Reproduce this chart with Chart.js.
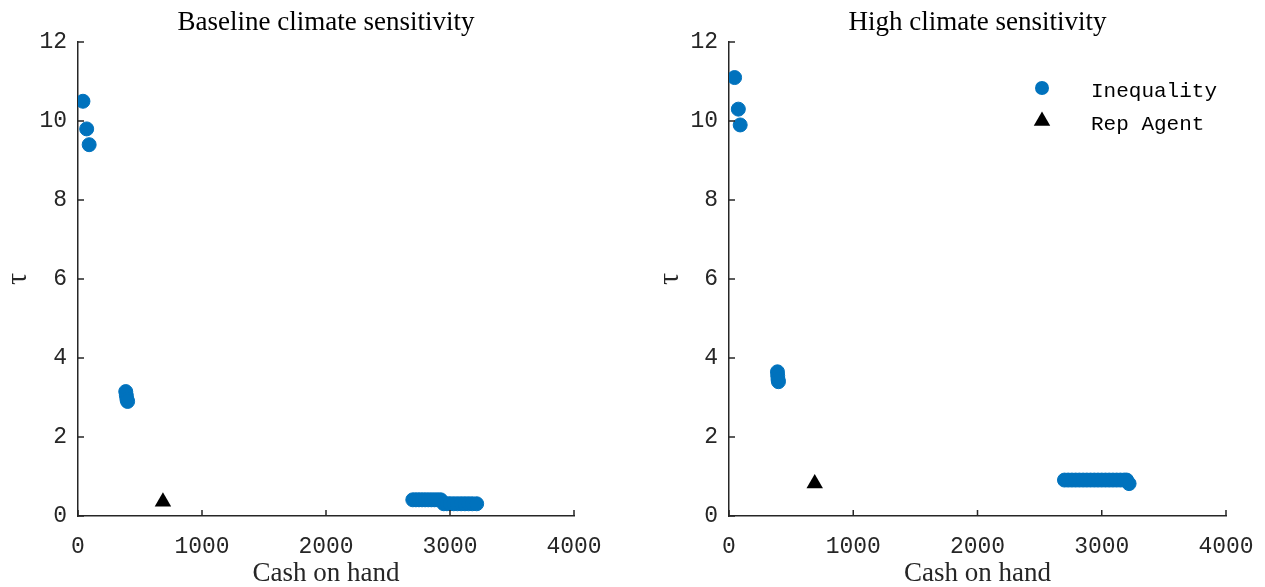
<!DOCTYPE html>
<html>
<head>
<meta charset="utf-8">
<script src="https://cdn.jsdelivr.net/npm/chart.js@4.4.1/dist/chart.umd.min.js"></script>
<style>
  html, body { margin: 0; padding: 0; background: #fff; }
  .panel { position: absolute; top: 0; height: 587px; }
  #left { left: 0; width: 632px; }
  #right { left: 632px; width: 633px; }
</style>
</head>
<body>
<div class="panel" id="left"><canvas id="baseChart"></canvas></div>
<div class="panel" id="right"><canvas id="highChart"></canvas></div>
<script>
// ---- DATA ----
const xTicks = [0, 1000, 2000, 3000, 4000];
const yTicks = [0, 2, 4, 6, 8, 10, 12];
const seriesNames = ['Inequality', 'Rep Agent'];

// Baseline climate sensitivity
const baseIneqX = [40, 70, 90, 385, 390, 395, 400,
  2700, 2725, 2750, 2775, 2800, 2825, 2850, 2875, 2900, 2925,
  2950, 2975, 3000, 3030, 3060, 3090, 3120, 3150, 3180, 3215];
const baseIneqY = [10.5, 9.8, 9.4, 3.15, 3.05, 2.95, 2.9,
  0.41, 0.41, 0.41, 0.41, 0.41, 0.41, 0.41, 0.41, 0.41, 0.41,
  0.31, 0.31, 0.31, 0.31, 0.31, 0.31, 0.31, 0.31, 0.31, 0.31];
const baseRepX = [685];
const baseRepY = [0.36];

// High climate sensitivity
const highIneqX = [45, 75, 90, 390, 392, 395, 398,
  2700, 2730, 2760, 2790, 2820, 2850, 2880, 2910, 2940, 2970,
  3000, 3030, 3060, 3090, 3120, 3150, 3180, 3200, 3220];
const highIneqY = [11.1, 10.3, 9.9, 3.65, 3.55, 3.45, 3.4,
  0.91, 0.91, 0.91, 0.91, 0.91, 0.91, 0.91, 0.91, 0.91, 0.91,
  0.91, 0.91, 0.91, 0.91, 0.91, 0.91, 0.91, 0.91, 0.82];
const highRepX = [690];
const highRepY = [0.82];

// ---- STYLE ----
const AXIS = '#262626';
const BLUE = '#0072BD';
const MONO = '"Liberation Mono", "DejaVu Sans Mono", monospace';
const SERIF = '"Liberation Serif", "DejaVu Serif", serif';

const toPoints = (xs, ys) => xs.map((x, i) => ({ x, y: ys[i] }));

// MATLAB-style ticks pointing into the axes
const innerTicks = {
  id: 'innerTicks',
  afterDraw(chart) {
    const { ctx, chartArea: a, scales: { x, y } } = chart;
    ctx.save();
    ctx.strokeStyle = AXIS;
    ctx.lineWidth = 1.5;
    ctx.beginPath();
    x.ticks.forEach(t => {
      const px = x.getPixelForValue(t.value);
      ctx.moveTo(px, a.bottom); ctx.lineTo(px, a.bottom - 6);
    });
    y.ticks.forEach(t => {
      const py = y.getPixelForValue(t.value);
      ctx.moveTo(a.left, py); ctx.lineTo(a.left + 6, py);
    });
    ctx.stroke();
    ctx.restore();
  }
};

// legend in the upper right corner, no frame
const cornerLegend = {
  id: 'cornerLegend',
  afterDraw(chart, args, opts) {
    if (!opts.show) return;
    const { ctx, chartArea: a } = chart;
    ctx.save();
    chart.data.datasets.forEach((ds, i) => {
      const cy = a.top + 46 + i * 33;
      const cx = a.right - 184;
      ctx.fillStyle = ds.backgroundColor;
      ctx.beginPath();
      if (ds.pointStyle === 'triangle') {
        const r = ds.pointRadius;
        ctx.moveTo(cx, cy - r);
        ctx.lineTo(cx + r * 0.866, cy + r / 2);
        ctx.lineTo(cx - r * 0.866, cy + r / 2);
        ctx.closePath();
      } else {
        ctx.arc(cx, cy, ds.pointRadius, 0, Math.PI * 2);
      }
      ctx.fill();
      ctx.fillStyle = '#000';
      ctx.font = '21px ' + MONO;
      ctx.textBaseline = 'middle';
      ctx.fillText(ds.label, a.right - 135, cy + 3);
    });
    ctx.restore();
  }
};

const makeChart = (id, title, ineqX, ineqY, repX, repY, leftWidth, tauPad, rightPad, legend) => {
  new Chart(document.getElementById(id), {
    type: 'scatter',
    data: {
      datasets: [{
        label: seriesNames[0],
        data: toPoints(ineqX, ineqY),
        pointStyle: 'circle',
        pointRadius: 7,
        pointBorderWidth: 1,
        backgroundColor: BLUE,
        borderColor: BLUE
      }, {
        label: seriesNames[1],
        data: toPoints(repX, repY),
        pointStyle: 'triangle',
        pointRadius: 9.5,
        pointBorderWidth: 0,
        backgroundColor: '#000',
        borderColor: '#000'
      }]
    },
    options: {
      responsive: true,
      maintainAspectRatio: false,
      animation: false,
      layout: { padding: { left: 0, right: rightPad, top: 0, bottom: 0 } },
      plugins: {
        legend: { display: false },
        tooltip: { enabled: false },
        title: {
          display: true,
          text: title,
          fullSize: false,
          color: '#000',
          font: { family: SERIF, size: 27, weight: 'normal', lineHeight: 1.2 },
          padding: { top: 7, bottom: 2.6 }
        },
        cornerLegend: { show: legend }
      },
      scales: {
        x: {
          type: 'linear',
          min: xTicks[0],
          max: xTicks[xTicks.length - 1],
          afterBuildTicks: s => { s.ticks = xTicks.map(v => ({ value: v })); },
          afterFit: s => { s.height = 71; s.paddingLeft = 0; s.paddingRight = 0; },
          grid: { display: true, drawOnChartArea: false, drawTicks: false },
          border: { display: true, color: AXIS, width: 1.5 },
          ticks: {
            color: AXIS, padding: 17, font: { family: MONO, size: 23 },
            callback: v => String(v)
          },
          title: {
            display: true,
            text: 'Cash on hand',
            color: AXIS,
            font: { family: SERIF, size: 27, lineHeight: 1 },
            padding: { top: 0, bottom: 0 }
          }
        },
        y: {
          type: 'linear',
          min: yTicks[0],
          max: yTicks[yTicks.length - 1],
          afterBuildTicks: s => { s.ticks = yTicks.map(v => ({ value: v })); },
          afterFit: s => { s.width = leftWidth; },
          grid: { display: true, drawOnChartArea: false, drawTicks: false },
          border: { display: true, color: AXIS, width: 1.5 },
          ticks: {
            color: AXIS, padding: 11, font: { family: MONO, size: 23 },
            callback: v => String(v)
          },
          title: {
            display: true,
            text: 'τ',
            color: AXIS,
            font: { family: SERIF, size: 30, lineHeight: 1 },
            padding: { top: tauPad - 2, bottom: 0 }
          }
        }
      }
    },
    plugins: [innerTicks, cornerLegend]
  });
};

makeChart('baseChart', 'Baseline climate sensitivity', baseIneqX, baseIneqY, baseRepX, baseRepY, 78, 5, 58, false);
makeChart('highChart', 'High climate sensitivity', highIneqX, highIneqY, highRepX, highRepY, 97, 25, 39, true);
</script>
</body>
</html>
